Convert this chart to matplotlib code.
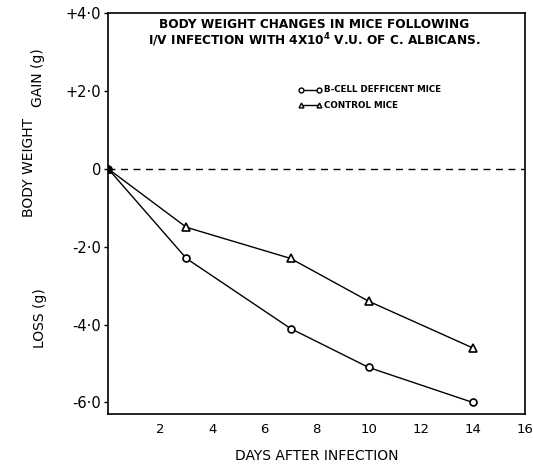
import matplotlib.pyplot as plt

# values
days = [0, 3, 7, 10, 14]
bcell_loss = [0.0, -2.3, -4.1, -5.1, -6.0]
control_loss = [0.0, -1.5, -2.3, -3.4, -4.6]

x_ticks = [2, 4, 6, 8, 10, 12, 14, 16]
y_ticks = [4, 2, 0, -2, -4, -6]
y_tick_labels = ["+4\u00b70", "+2\u00b70", "0", "-2\u00b70", "-4\u00b70", "-6\u00b70"]

plt.rcParams['font.family'] = ['DejaVu Sans']

fig = plt.figure(figsize=(5.33, 4.68), dpi=100)
ax = fig.add_axes([0.203, 0.115, 0.782, 0.857])

ax.plot(days, bcell_loss, color='black', lw=1.0, marker='o', ms=5,
        mfc='white', mec='black', mew=1.2, zorder=3)
ax.plot(days, control_loss, color='black', lw=1.0, marker='^', ms=5.5,
        mfc='white', mec='black', mew=1.2, zorder=3)
ax.plot([0], [0], marker='o', ms=4, color='black', zorder=4)
ax.axhline(0, color='black', lw=1.0, ls=(0, (5, 4)))

ax.set_xlim(0, 16)
ax.set_ylim(-6.3, 4.0)
ax.set_xticks(x_ticks)
ax.set_xticklabels([str(t) for t in x_ticks], fontsize=9.5)
ax.set_yticks(y_ticks)
ax.set_yticklabels(y_tick_labels, fontsize=10.5)
ax.tick_params(axis='both', direction='out', length=3, width=1.0, pad=2)
ax.tick_params(axis='x', length=0, pad=6)
for s in ax.spines.values():
    s.set_linewidth(1.2)

ax.set_xlabel("DAYS AFTER INFECTION", fontsize=10, labelpad=10)

# split y label
fig.text(0.055, 0.643, "BODY WEIGHT", rotation=90, fontsize=10,
         ha='center', va='center')
fig.text(0.071, 0.835, "GAIN (g)", rotation=90, fontsize=10,
         ha='center', va='center')
fig.text(0.075, 0.32, "LOSS (g)", rotation=90, fontsize=10,
         ha='center', va='center')

ax.text(0.495, 0.988, "BODY WEIGHT CHANGES IN MICE FOLLOWING\n"
        "I/V INFECTION WITH 4X10$^\\mathbf{4}$ V.U. OF C. ALBICANS.",
        transform=ax.transAxes, ha='center', va='top', fontsize=8.7,
        fontweight='bold', linespacing=1.0)

# hand-drawn style legend
ax.plot([7.4, 8.1], [2.03, 2.03], color='black', lw=1.0, marker='o', ms=3.5,
        mfc='white', mec='black')
ax.plot([7.4, 8.1], [1.63, 1.63], color='black', lw=1.0, marker='^', ms=3.5,
        mfc='white', mec='black')
ax.text(8.3, 2.03, "B-CELL DEFFICENT MICE", fontsize=6.3, fontweight='bold',
        va='center')
ax.text(8.3, 1.63, "CONTROL MICE", fontsize=6.3, fontweight='bold',
        va='center')

fig.savefig("out.png", dpi=100)
